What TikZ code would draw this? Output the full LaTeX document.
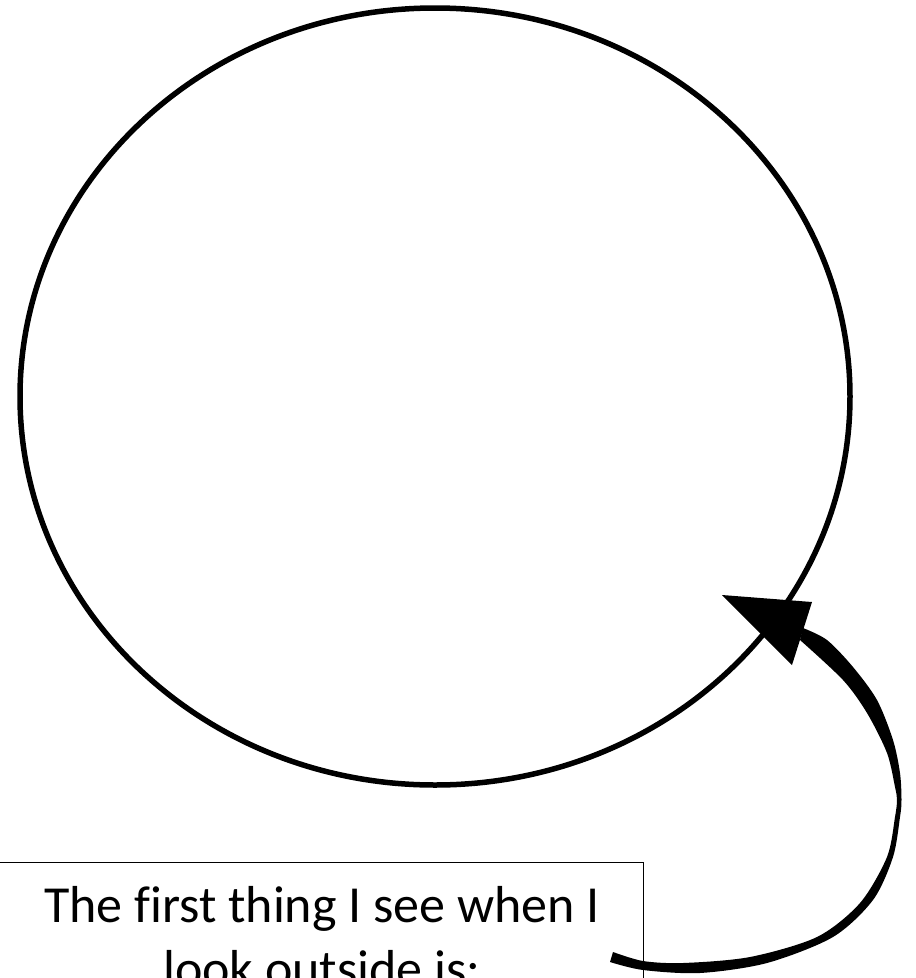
\documentclass[tikz,border=0pt]{standalone}
\usepackage{fontspec}
\setmainfont[Ligatures=CommonOff]{Carlito}
\begin{document}
\begin{tikzpicture}[x=1pt,y=-1pt,
  ring/.style={draw=black,line width=5.5pt},
  labelbox/.style={draw=black,line width=1.2pt,rectangle,inner sep=0pt,anchor=north west},
  labeltext/.style={font=\fontsize{52}{62}\selectfont,anchor=base,inner sep=0pt}]
\useasboundingbox (0,0) rectangle (916,978);
\clip (0,0) rectangle (916,978);
\fill[white] (0,0) rectangle (916,978);
% big ellipse
\draw[ring] (435,396.5) ellipse [x radius=415pt, y radius=388.5pt];
% text box
\node[labelbox,minimum width=648pt,minimum height=160pt] (box) at (-5,862) {};
\node[labeltext] (l1) at (322,922) {The first thing I see when I};
\node[labeltext] (l2) at (322,986) {look outside is:};
% curved tapered arrow
\coordinate (tip) at (722,595);
\fill[black] plot[smooth] coordinates {(803,628) (827,640) (853,667) (877,700) (893,740) (900,773) (901.5,800) (900,817) (893,857) (873,900) (833,937) (767,963) (700,973) (643,970) (610,962)}
  -- plot[smooth] coordinates {(613,952) (643,961) (683,963) (750,957) (817,937) (860,903) (887,857) (895,817) (897,800) (895,787) (887,753) (867,713) (843,680) (800,640)} -- cycle;
\fill[black] (tip) -- (812,602) -- (792,665) -- cycle;
\end{tikzpicture}
\end{document}
